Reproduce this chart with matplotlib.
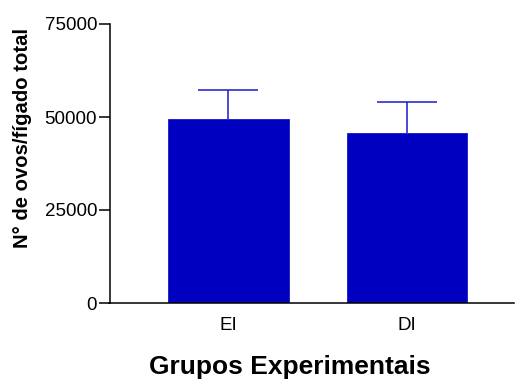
import matplotlib
matplotlib.use("Agg")
import matplotlib.pyplot as plt

groups = ["EI", "DI"]
means = [49500, 45600]
sem = [7800, 8400]
y_ticks = [0, 25000, 50000, 75000]

plt.rcParams["font.family"] = ["Liberation Sans", "DejaVu Sans"]

BAR = "#0000c0"
ERR = "#1a1ac8"

fig = plt.figure(figsize=(5.15, 3.81), dpi=100)
ax = fig.add_axes([109.5 / 515, 1 - 303 / 381, (514 - 109.5) / 515, 279 / 381])

x = list(range(len(groups)))
ax.bar(x, means, width=0.677, color=BAR, edgecolor=BAR, linewidth=0.5, zorder=2)
eb = ax.errorbar(x, means, yerr=[[0] * len(sem), sem], fmt="none", ecolor=ERR,
                 elinewidth=1.1, capsize=21.8, capthick=1.1, zorder=3)
# one-sided SEM: hide the cap that would sit on the bar top
eb[1][0].set_visible(False)

ax.set_xlim(-0.665, 1.599)
ax.set_ylim(0, 75000)
ax.set_yticks(y_ticks)
ax.set_yticklabels([str(v) for v in y_ticks])
ax.set_xticks(x)
ax.set_xticklabels(groups)

for side in ("top", "right"):
    ax.spines[side].set_visible(False)
for side in ("left", "bottom"):
    ax.spines[side].set_linewidth(1.1)
    ax.spines[side].set_color("black")

ax.tick_params(axis="y", length=8, width=1.1, pad=1, labelsize=13.5)
ax.tick_params(axis="x", length=0, pad=10, labelsize=13.5)

fig.text(23 / 515, 1 - 138 / 381, "N° de ovos/fígado total", rotation=90,
         ha="center", va="center", fontsize=14.6, fontweight="bold")
fig.text(290 / 515, 1 - 374 / 381, "Grupos Experimentais",
         ha="center", va="baseline", fontsize=19, fontweight="bold")

fig.savefig("out.png", dpi=100)
